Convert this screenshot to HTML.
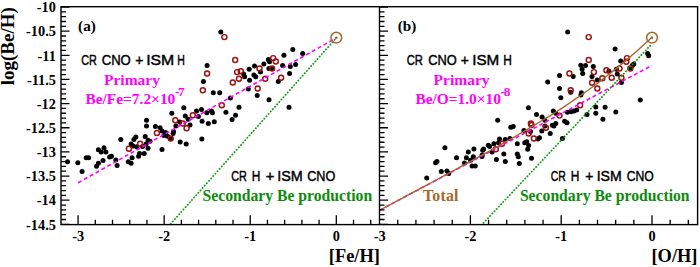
<!DOCTYPE html>
<html><head><meta charset="utf-8"><style>
html,body{margin:0;padding:0;background:#fff;}
body{width:700px;height:267px;overflow:hidden;position:relative;}
svg{position:absolute;left:0;top:0;}
.t{position:absolute;white-space:nowrap;line-height:1;}
.serif{font-family:"Liberation Serif",serif;font-weight:bold;}
.sans{font-family:"Liberation Sans",sans-serif;}
</style></head><body>
<svg width="700" height="267" viewBox="0 0 700 267">
<defs><clipPath id="cl"><rect x="61" y="7" width="318.5" height="217.4"/></clipPath><clipPath id="cr"><rect x="379.5" y="7" width="318" height="217.4"/></clipPath></defs>
<g fill="#000">
<circle cx="67.5" cy="161.8" r="2.5"/>
<circle cx="77.8" cy="162.8" r="2.5"/>
<circle cx="82.1" cy="171.4" r="2.5"/>
<circle cx="86.2" cy="157.7" r="2.5"/>
<circle cx="88.6" cy="157.7" r="2.5"/>
<circle cx="96.5" cy="166.3" r="2.5"/>
<circle cx="98.4" cy="163.3" r="2.5"/>
<circle cx="98.4" cy="149.7" r="2.5"/>
<circle cx="101.2" cy="152.1" r="2.5"/>
<circle cx="104.0" cy="147.8" r="2.5"/>
<circle cx="105.9" cy="152.1" r="2.5"/>
<circle cx="103.0" cy="160.5" r="2.5"/>
<circle cx="109.6" cy="157.1" r="2.5"/>
<circle cx="111.5" cy="156.2" r="2.5"/>
<circle cx="115.8" cy="160.0" r="2.5"/>
<circle cx="117.1" cy="165.4" r="2.5"/>
<circle cx="120.8" cy="139.4" r="2.5"/>
<circle cx="128.3" cy="161.8" r="2.5"/>
<circle cx="131.1" cy="163.3" r="2.5"/>
<circle cx="132.1" cy="157.7" r="2.5"/>
<circle cx="138.6" cy="156.2" r="2.5"/>
<circle cx="139.5" cy="153.4" r="2.5"/>
<circle cx="144.2" cy="153.4" r="2.5"/>
<circle cx="148.0" cy="148.2" r="2.5"/>
<circle cx="162.0" cy="149.4" r="2.5"/>
<circle cx="135.8" cy="137.1" r="2.5"/>
<circle cx="133.9" cy="139.4" r="2.5"/>
<circle cx="131.1" cy="144.0" r="2.5"/>
<circle cx="133.0" cy="145.9" r="2.5"/>
<circle cx="136.7" cy="146.8" r="2.5"/>
<circle cx="145.2" cy="136.6" r="2.5"/>
<circle cx="148.0" cy="140.3" r="2.5"/>
<circle cx="146.1" cy="144.0" r="2.5"/>
<circle cx="162.0" cy="131.0" r="2.5"/>
<circle cx="163.9" cy="135.6" r="2.5"/>
<circle cx="146.5" cy="120.3" r="2.5"/>
<circle cx="146.5" cy="125.9" r="2.5"/>
<circle cx="155.4" cy="126.4" r="2.5"/>
<circle cx="160.1" cy="127.8" r="2.5"/>
<circle cx="171.8" cy="113.2" r="2.5"/>
<circle cx="183.8" cy="107.7" r="2.5"/>
<circle cx="185.3" cy="116.0" r="2.5"/>
<circle cx="188.1" cy="119.3" r="2.5"/>
<circle cx="190.0" cy="124.9" r="2.5"/>
<circle cx="179.7" cy="122.1" r="2.5"/>
<circle cx="175.9" cy="125.9" r="2.5"/>
<circle cx="173.5" cy="131.5" r="2.5"/>
<circle cx="173.1" cy="133.4" r="2.5"/>
<circle cx="165.6" cy="132.4" r="2.5"/>
<circle cx="167.5" cy="136.2" r="2.5"/>
<circle cx="180.2" cy="142.0" r="2.5"/>
<circle cx="186.2" cy="144.0" r="2.5"/>
<circle cx="196.5" cy="110.9" r="2.5"/>
<circle cx="201.5" cy="109.6" r="2.5"/>
<circle cx="198.4" cy="116.5" r="2.5"/>
<circle cx="202.1" cy="121.2" r="2.5"/>
<circle cx="206.8" cy="112.8" r="2.5"/>
<circle cx="211.5" cy="110.9" r="2.5"/>
<circle cx="212.4" cy="112.8" r="2.5"/>
<circle cx="208.3" cy="123.4" r="2.5"/>
<circle cx="214.3" cy="121.8" r="2.5"/>
<circle cx="201.8" cy="139.0" r="2.5"/>
<circle cx="230.4" cy="97.9" r="2.5"/>
<circle cx="225.9" cy="112.2" r="2.5"/>
<circle cx="239.0" cy="107.2" r="2.5"/>
<circle cx="235.5" cy="115.2" r="2.5"/>
<circle cx="232.1" cy="119.4" r="2.5"/>
<circle cx="257.2" cy="95.6" r="2.5"/>
<circle cx="207.1" cy="65.6" r="2.5"/>
<circle cx="203.4" cy="81.5" r="2.5"/>
<circle cx="213.3" cy="92.7" r="2.5"/>
<circle cx="219.7" cy="92.7" r="2.5"/>
<circle cx="243.6" cy="74.0" r="2.5"/>
<circle cx="244.6" cy="76.8" r="2.5"/>
<circle cx="249.2" cy="69.3" r="2.5"/>
<circle cx="249.6" cy="80.2" r="2.5"/>
<circle cx="254.5" cy="66.0" r="2.5"/>
<circle cx="253.9" cy="75.0" r="2.5"/>
<circle cx="255.8" cy="76.8" r="2.5"/>
<circle cx="260.5" cy="72.1" r="2.5"/>
<circle cx="263.8" cy="64.1" r="2.5"/>
<circle cx="269.5" cy="61.8" r="2.5"/>
<circle cx="268.9" cy="68.4" r="2.5"/>
<circle cx="271.7" cy="68.4" r="2.5"/>
<circle cx="278.3" cy="81.5" r="2.5"/>
<circle cx="283.9" cy="55.3" r="2.5"/>
<circle cx="282.6" cy="65.6" r="2.5"/>
<circle cx="248.3" cy="89.0" r="2.5"/>
<circle cx="220.8" cy="32.1" r="2.5"/>
<circle cx="292.8" cy="49.6" r="2.5"/>
<circle cx="302.7" cy="53.4" r="2.5"/>
<circle cx="290.3" cy="66.5" r="2.5"/>
<circle cx="295.6" cy="64.6" r="2.5"/>
<circle cx="289.6" cy="73.4" r="2.5"/>
<circle cx="269.0" cy="99.8" r="2.5"/>
<circle cx="289.0" cy="107.2" r="2.5"/>
<circle cx="268.4" cy="59.6" r="2.5"/>
<circle cx="150.0" cy="141.2" r="2.5"/>
<circle cx="142.6" cy="146.6" r="2.5"/>
<circle cx="170.7" cy="138.4" r="2.5"/>
<circle cx="444.9" cy="147.8" r="2.5"/>
<circle cx="456.5" cy="157.7" r="2.5"/>
<circle cx="468.3" cy="152.1" r="2.5"/>
<circle cx="473.9" cy="148.9" r="2.5"/>
<circle cx="466.4" cy="157.7" r="2.5"/>
<circle cx="473.3" cy="156.8" r="2.5"/>
<circle cx="483.6" cy="148.9" r="2.5"/>
<circle cx="482.7" cy="150.2" r="2.5"/>
<circle cx="488.3" cy="145.2" r="2.5"/>
<circle cx="489.6" cy="146.5" r="2.5"/>
<circle cx="493.9" cy="143.7" r="2.5"/>
<circle cx="492.1" cy="152.1" r="2.5"/>
<circle cx="499.5" cy="139.0" r="2.5"/>
<circle cx="498.6" cy="142.8" r="2.5"/>
<circle cx="505.2" cy="139.6" r="2.5"/>
<circle cx="503.8" cy="154.0" r="2.5"/>
<circle cx="497.7" cy="120.3" r="2.5"/>
<circle cx="510.8" cy="127.2" r="2.5"/>
<circle cx="513.2" cy="126.5" r="2.5"/>
<circle cx="517.3" cy="143.7" r="2.5"/>
<circle cx="517.3" cy="154.0" r="2.5"/>
<circle cx="518.3" cy="156.8" r="2.5"/>
<circle cx="523.9" cy="130.6" r="2.5"/>
<circle cx="524.8" cy="142.8" r="2.5"/>
<circle cx="496.4" cy="159.6" r="2.5"/>
<circle cx="426.7" cy="178.1" r="2.5"/>
<circle cx="435.6" cy="162.7" r="2.5"/>
<circle cx="437.0" cy="161.6" r="2.5"/>
<circle cx="441.3" cy="171.5" r="2.5"/>
<circle cx="446.9" cy="171.0" r="2.5"/>
<circle cx="448.7" cy="173.4" r="2.5"/>
<circle cx="464.5" cy="163.1" r="2.5"/>
<circle cx="470.6" cy="160.3" r="2.5"/>
<circle cx="472.1" cy="165.9" r="2.5"/>
<circle cx="475.3" cy="165.9" r="2.5"/>
<circle cx="481.9" cy="156.6" r="2.5"/>
<circle cx="547.7" cy="81.9" r="2.5"/>
<circle cx="559.5" cy="88.4" r="2.5"/>
<circle cx="560.8" cy="97.8" r="2.5"/>
<circle cx="570.7" cy="92.2" r="2.5"/>
<circle cx="581.4" cy="92.7" r="2.5"/>
<circle cx="580.9" cy="95.0" r="2.5"/>
<circle cx="528.4" cy="107.7" r="2.5"/>
<circle cx="536.5" cy="114.6" r="2.5"/>
<circle cx="542.1" cy="117.1" r="2.5"/>
<circle cx="544.9" cy="120.2" r="2.5"/>
<circle cx="553.3" cy="110.9" r="2.5"/>
<circle cx="555.8" cy="113.3" r="2.5"/>
<circle cx="567.4" cy="112.2" r="2.5"/>
<circle cx="571.1" cy="111.8" r="2.5"/>
<circle cx="573.9" cy="110.9" r="2.5"/>
<circle cx="576.7" cy="110.0" r="2.5"/>
<circle cx="564.6" cy="121.2" r="2.5"/>
<circle cx="567.0" cy="122.7" r="2.5"/>
<circle cx="555.8" cy="123.4" r="2.5"/>
<circle cx="552.4" cy="125.3" r="2.5"/>
<circle cx="544.9" cy="125.9" r="2.5"/>
<circle cx="587.0" cy="114.6" r="2.5"/>
<circle cx="595.8" cy="107.1" r="2.5"/>
<circle cx="595.8" cy="113.3" r="2.5"/>
<circle cx="602.9" cy="119.3" r="2.5"/>
<circle cx="597.3" cy="80.0" r="2.5"/>
<circle cx="615.1" cy="49.1" r="2.5"/>
<circle cx="647.6" cy="53.4" r="2.5"/>
<circle cx="648.7" cy="55.8" r="2.5"/>
<circle cx="620.7" cy="60.9" r="2.5"/>
<circle cx="633.8" cy="64.1" r="2.5"/>
<circle cx="632.3" cy="65.6" r="2.5"/>
<circle cx="630.0" cy="68.4" r="2.5"/>
<circle cx="617.3" cy="74.0" r="2.5"/>
<circle cx="580.8" cy="65.2" r="2.5"/>
<circle cx="585.5" cy="65.6" r="2.5"/>
<circle cx="593.3" cy="66.5" r="2.5"/>
<circle cx="582.1" cy="69.3" r="2.5"/>
<circle cx="582.7" cy="73.4" r="2.5"/>
<circle cx="592.0" cy="76.4" r="2.5"/>
<circle cx="608.9" cy="71.2" r="2.5"/>
<circle cx="616.4" cy="69.3" r="2.5"/>
<circle cx="621.4" cy="82.5" r="2.5"/>
<circle cx="640.3" cy="99.9" r="2.5"/>
<circle cx="605.1" cy="107.2" r="2.5"/>
<circle cx="615.8" cy="112.1" r="2.5"/>
<circle cx="482.2" cy="155.0" r="2.5"/>
<circle cx="509.9" cy="138.5" r="2.5"/>
<circle cx="505.3" cy="161.5" r="2.5"/>
<circle cx="519.3" cy="163.4" r="2.5"/>
<circle cx="526.8" cy="141.8" r="2.5"/>
<circle cx="528.7" cy="145.6" r="2.5"/>
<circle cx="527.7" cy="149.3" r="2.5"/>
<circle cx="531.5" cy="158.3" r="2.5"/>
<circle cx="538.0" cy="139.0" r="2.5"/>
<circle cx="539.5" cy="137.7" r="2.5"/>
<circle cx="530.5" cy="131.6" r="2.5"/>
<circle cx="541.8" cy="131.0" r="2.5"/>
<circle cx="550.2" cy="133.4" r="2.5"/>
<circle cx="553.9" cy="125.9" r="2.5"/>
<circle cx="562.4" cy="138.5" r="2.5"/>
<circle cx="567.7" cy="32.1" r="2.5"/>
<circle cx="559.5" cy="75.4" r="2.5"/>
<circle cx="573.2" cy="76.6" r="2.5"/>
</g>
<g>
<circle cx="128.9" cy="148.7" r="2.5" fill="none" stroke="#9b1010" stroke-width="1.45"/>
<circle cx="140.1" cy="143.7" r="2.5" fill="none" stroke="#9b1010" stroke-width="1.45"/>
<circle cx="156.9" cy="133.0" r="2.5" fill="none" stroke="#9b1010" stroke-width="1.45"/>
<circle cx="175.3" cy="120.3" r="2.5" fill="none" stroke="#9b1010" stroke-width="1.45"/>
<circle cx="182.8" cy="123.4" r="2.5" fill="none" stroke="#9b1010" stroke-width="1.45"/>
<circle cx="186.6" cy="128.3" r="2.5" fill="none" stroke="#9b1010" stroke-width="1.45"/>
<circle cx="192.8" cy="115.2" r="2.5" fill="none" stroke="#9b1010" stroke-width="1.45"/>
<circle cx="221.8" cy="105.3" r="2.5" fill="none" stroke="#9b1010" stroke-width="1.45"/>
<circle cx="170.7" cy="138.4" r="2.5" fill="none" stroke="#9b1010" stroke-width="1.45"/>
<circle cx="202.8" cy="90.3" r="2.5" fill="none" stroke="#9b1010" stroke-width="1.45"/>
<circle cx="207.1" cy="73.4" r="2.5" fill="none" stroke="#9b1010" stroke-width="1.45"/>
<circle cx="235.2" cy="60.0" r="2.5" fill="none" stroke="#9b1010" stroke-width="1.45"/>
<circle cx="237.1" cy="72.1" r="2.5" fill="none" stroke="#9b1010" stroke-width="1.45"/>
<circle cx="240.8" cy="71.2" r="2.5" fill="none" stroke="#9b1010" stroke-width="1.45"/>
<circle cx="239.0" cy="78.7" r="2.5" fill="none" stroke="#9b1010" stroke-width="1.45"/>
<circle cx="232.8" cy="82.4" r="2.5" fill="none" stroke="#9b1010" stroke-width="1.45"/>
<circle cx="259.5" cy="68.4" r="2.5" fill="none" stroke="#9b1010" stroke-width="1.45"/>
<circle cx="265.2" cy="78.7" r="2.5" fill="none" stroke="#9b1010" stroke-width="1.45"/>
<circle cx="257.7" cy="88.4" r="2.5" fill="none" stroke="#9b1010" stroke-width="1.45"/>
<circle cx="273.2" cy="58.1" r="2.5" fill="none" stroke="#9b1010" stroke-width="1.45"/>
<circle cx="275.8" cy="61.5" r="2.5" fill="none" stroke="#9b1010" stroke-width="1.45"/>
<circle cx="272.1" cy="68.4" r="2.5" fill="none" stroke="#9b1010" stroke-width="1.45"/>
<circle cx="281.1" cy="77.8" r="2.5" fill="none" stroke="#9b1010" stroke-width="1.45"/>
<circle cx="224.4" cy="37.1" r="2.5" fill="none" stroke="#9b1010" stroke-width="1.45"/>
<circle cx="495.8" cy="149.3" r="2.5" fill="none" stroke="#9b1010" stroke-width="1.45"/>
<circle cx="502.0" cy="143.7" r="2.5" fill="none" stroke="#9b1010" stroke-width="1.45"/>
<circle cx="570.7" cy="90.3" r="2.5" fill="none" stroke="#9b1010" stroke-width="1.45"/>
<circle cx="580.1" cy="105.3" r="2.5" fill="none" stroke="#9b1010" stroke-width="1.45"/>
<circle cx="559.5" cy="115.6" r="2.5" fill="none" stroke="#9b1010" stroke-width="1.45"/>
<circle cx="530.9" cy="123.4" r="2.5" fill="none" stroke="#9b1010" stroke-width="1.45"/>
<circle cx="545.9" cy="127.7" r="2.5" fill="none" stroke="#9b1010" stroke-width="1.45"/>
<circle cx="592.1" cy="82.8" r="2.5" fill="none" stroke="#9b1010" stroke-width="1.45"/>
<circle cx="597.3" cy="88.4" r="2.5" fill="none" stroke="#9b1010" stroke-width="1.45"/>
<circle cx="588.7" cy="37.1" r="2.5" fill="none" stroke="#9b1010" stroke-width="1.45"/>
<circle cx="588.7" cy="59.9" r="2.5" fill="none" stroke="#9b1010" stroke-width="1.45"/>
<circle cx="627.0" cy="58.1" r="2.5" fill="none" stroke="#9b1010" stroke-width="1.45"/>
<circle cx="626.3" cy="61.8" r="2.5" fill="none" stroke="#9b1010" stroke-width="1.45"/>
<circle cx="630.4" cy="68.4" r="2.5" fill="none" stroke="#9b1010" stroke-width="1.45"/>
<circle cx="619.5" cy="68.4" r="2.5" fill="none" stroke="#9b1010" stroke-width="1.45"/>
<circle cx="606.4" cy="70.2" r="2.5" fill="none" stroke="#9b1010" stroke-width="1.45"/>
<circle cx="593.9" cy="72.1" r="2.5" fill="none" stroke="#9b1010" stroke-width="1.45"/>
<circle cx="621.4" cy="77.7" r="2.5" fill="none" stroke="#9b1010" stroke-width="1.45"/>
<circle cx="611.7" cy="77.7" r="2.5" fill="none" stroke="#9b1010" stroke-width="1.45"/>
<circle cx="602.3" cy="78.3" r="2.5" fill="none" stroke="#9b1010" stroke-width="1.45"/>
<circle cx="528.7" cy="133.4" r="2.5" fill="none" stroke="#9b1010" stroke-width="1.45"/>
<circle cx="533.9" cy="138.5" r="2.5" fill="none" stroke="#9b1010" stroke-width="1.45"/>
<circle cx="531.5" cy="125.0" r="2.5" fill="none" stroke="#9b1010" stroke-width="1.45"/>
<circle cx="569.4" cy="73.5" r="2.5" fill="none" stroke="#9b1010" stroke-width="1.45"/>
</g>
<g clip-path="url(#cl)">
<line x1="78.1" y1="182.8" x2="336.3" y2="37.9" stroke="#ff00ff" stroke-width="1.6" stroke-dasharray="4 2.7"/>
<line x1="168.5" y1="226.3" x2="336.3" y2="37.9" stroke="#109a10" stroke-width="1.8" stroke-linecap="round" stroke-dasharray="0.2 3.0"/>
</g>
<g clip-path="url(#cr)">
<line x1="379.6" y1="210.3" x2="652.0" y2="65.4" stroke="#ff00ff" stroke-width="1.6" stroke-dasharray="4 2.7"/>
<line x1="481.3" y1="225.3" x2="652.0" y2="43.7" stroke="#109a10" stroke-width="1.8" stroke-linecap="round" stroke-dasharray="0.2 3.0"/>
</g>
<g clip-path="url(#cr)"><polyline points="379.6,210.3 383.0,208.5 386.4,206.7 389.8,204.8 393.2,203.0 396.6,201.2 400.0,199.4 403.4,197.6 406.8,195.7 410.2,193.9 413.7,192.1 417.1,190.3 420.5,188.4 423.9,186.6 427.3,184.8 430.7,183.0 434.1,181.1 437.5,179.3 440.9,177.5 444.3,175.6 447.7,173.8 451.1,171.9 454.5,170.1 457.9,168.3 461.3,166.4 464.7,164.6 468.1,162.7 471.5,160.8 474.9,159.0 478.3,157.1 481.8,155.2 485.2,153.4 488.6,151.5 492.0,149.6 495.4,147.7 498.8,145.8 502.2,143.9 505.6,141.9 509.0,140.0 512.4,138.1 515.8,136.1 519.2,134.1 522.6,132.2 526.0,130.2 529.4,128.2 532.8,126.1 536.2,124.1 539.6,122.0 543.0,120.0 546.4,117.9 549.9,115.8 553.3,113.6 556.7,111.5 560.1,109.3 563.5,107.1 566.9,104.8 570.3,102.5 573.7,100.2 577.1,97.9 580.5,95.5 583.9,93.1 587.3,90.7 590.7,88.2 594.1,85.7 597.5,83.2 600.9,80.6 604.3,78.0 607.7,75.3 611.1,72.6 614.5,69.9 618.0,67.1 621.4,64.3 624.8,61.5 628.2,58.6 631.6,55.6 635.0,52.7 638.4,49.7 641.8,46.6 645.2,43.6 648.6,40.5 652.0,37.3" fill="none" stroke="#a8662c" stroke-width="1.4"/></g>
<circle cx="336.3" cy="37.7" r="5.4" fill="none" stroke="#a8662c" stroke-width="1.5"/>
<circle cx="336.3" cy="37.7" r="1.3" fill="#a8662c"/>
<circle cx="652.0" cy="37.7" r="5.4" fill="none" stroke="#a8662c" stroke-width="1.5"/>
<circle cx="652.0" cy="37.7" r="1.3" fill="#a8662c"/>
<g stroke="#000" fill="none" stroke-width="1.4">
<rect x="61" y="6.7" width="636.6" height="217.9"/>
<line x1="379.5" y1="6.7" x2="379.5" y2="224.6"/>
</g>
<path d="M61 7.00h8.5M379.5 7.00h8.5M61 11.83h5M379.5 11.83h5M61 16.66h5M379.5 16.66h5M61 21.49h5M379.5 21.49h5M61 26.32h5M379.5 26.32h5M61 31.15h8.5M379.5 31.15h8.5M61 35.98h5M379.5 35.98h5M61 40.81h5M379.5 40.81h5M61 45.64h5M379.5 45.64h5M61 50.47h5M379.5 50.47h5M61 55.30h8.5M379.5 55.30h8.5M61 60.13h5M379.5 60.13h5M61 64.96h5M379.5 64.96h5M61 69.79h5M379.5 69.79h5M61 74.62h5M379.5 74.62h5M61 79.45h8.5M379.5 79.45h8.5M61 84.28h5M379.5 84.28h5M61 89.11h5M379.5 89.11h5M61 93.94h5M379.5 93.94h5M61 98.77h5M379.5 98.77h5M61 103.60h8.5M379.5 103.60h8.5M61 108.43h5M379.5 108.43h5M61 113.26h5M379.5 113.26h5M61 118.09h5M379.5 118.09h5M61 122.92h5M379.5 122.92h5M61 127.75h8.5M379.5 127.75h8.5M61 132.58h5M379.5 132.58h5M61 137.41h5M379.5 137.41h5M61 142.24h5M379.5 142.24h5M61 147.07h5M379.5 147.07h5M61 151.90h8.5M379.5 151.90h8.5M61 156.73h5M379.5 156.73h5M61 161.56h5M379.5 161.56h5M61 166.39h5M379.5 166.39h5M61 171.22h5M379.5 171.22h5M61 176.05h8.5M379.5 176.05h8.5M61 180.88h5M379.5 180.88h5M61 185.71h5M379.5 185.71h5M61 190.54h5M379.5 190.54h5M61 195.37h5M379.5 195.37h5M61 200.20h8.5M379.5 200.20h8.5M61 205.03h5M379.5 205.03h5M61 209.86h5M379.5 209.86h5M61 214.69h5M379.5 214.69h5M61 219.52h5M379.5 219.52h5M61 224.35h8.5M379.5 224.35h8.5M78.09 224.6v-9.3M95.30 224.6v-4.8M112.52 224.6v-4.8M129.73 224.6v-4.8M146.95 224.6v-4.8M164.16 224.6v-9.3M181.37 224.6v-4.8M198.59 224.6v-4.8M215.80 224.6v-4.8M233.02 224.6v-4.8M250.23 224.6v-9.3M267.44 224.6v-4.8M284.66 224.6v-4.8M301.87 224.6v-4.8M319.09 224.6v-4.8M336.30 224.6v-9.3M353.51 224.6v-4.8M370.73 224.6v-4.8M397.76 224.6v-4.8M415.92 224.6v-4.8M434.08 224.6v-4.8M452.24 224.6v-4.8M470.40 224.6v-9.3M488.56 224.6v-4.8M506.72 224.6v-4.8M524.88 224.6v-4.8M543.04 224.6v-4.8M561.20 224.6v-9.3M579.36 224.6v-4.8M597.52 224.6v-4.8M615.68 224.6v-4.8M633.84 224.6v-4.8M652.00 224.6v-9.3M670.16 224.6v-4.8M688.32 224.6v-4.8" stroke="#000" stroke-width="1.3" fill="none"/>
<text x="55.9" y="12.2" font-family="Liberation Serif" font-weight="bold" font-size="14.3" text-anchor="end">-10</text>
<text x="55.9" y="36.4" font-family="Liberation Serif" font-weight="bold" font-size="14.3" text-anchor="end">-10.5</text>
<text x="55.9" y="60.5" font-family="Liberation Serif" font-weight="bold" font-size="14.3" text-anchor="end">-11</text>
<text x="55.9" y="84.6" font-family="Liberation Serif" font-weight="bold" font-size="14.3" text-anchor="end">-11.5</text>
<text x="55.9" y="108.8" font-family="Liberation Serif" font-weight="bold" font-size="14.3" text-anchor="end">-12</text>
<text x="55.9" y="132.9" font-family="Liberation Serif" font-weight="bold" font-size="14.3" text-anchor="end">-12.5</text>
<text x="55.9" y="157.1" font-family="Liberation Serif" font-weight="bold" font-size="14.3" text-anchor="end">-13</text>
<text x="55.9" y="181.2" font-family="Liberation Serif" font-weight="bold" font-size="14.3" text-anchor="end">-13.5</text>
<text x="55.9" y="205.4" font-family="Liberation Serif" font-weight="bold" font-size="14.3" text-anchor="end">-14</text>
<text x="55.9" y="229.5" font-family="Liberation Serif" font-weight="bold" font-size="14.3" text-anchor="end">-14.5</text>
<text x="78.1" y="241.2" font-family="Liberation Serif" font-weight="bold" font-size="14.3" text-anchor="middle">-3</text>
<text x="379.6" y="241.2" font-family="Liberation Serif" font-weight="bold" font-size="14.3" text-anchor="middle">-3</text>
<text x="164.2" y="241.2" font-family="Liberation Serif" font-weight="bold" font-size="14.3" text-anchor="middle">-2</text>
<text x="470.4" y="241.2" font-family="Liberation Serif" font-weight="bold" font-size="14.3" text-anchor="middle">-2</text>
<text x="250.2" y="241.2" font-family="Liberation Serif" font-weight="bold" font-size="14.3" text-anchor="middle">-1</text>
<text x="561.2" y="241.2" font-family="Liberation Serif" font-weight="bold" font-size="14.3" text-anchor="middle">-1</text>
<text x="336.3" y="241.2" font-family="Liberation Serif" font-weight="bold" font-size="14.3" text-anchor="middle">0</text>
<text x="652.0" y="241.2" font-family="Liberation Serif" font-weight="bold" font-size="14.3" text-anchor="middle">0</text>
<text x="328.8" y="262" font-family="Liberation Serif" font-weight="bold" font-size="18.4">[Fe/H]</text>
<text x="651.5" y="262" font-family="Liberation Serif" font-weight="bold" font-size="18.4">[O/H]</text>
<text transform="translate(14,85.3) rotate(-90)" font-family="Liberation Serif" font-weight="bold" font-size="19">log(Be/H)</text>
<text x="78.1" y="30.9" font-family="Liberation Serif" font-weight="bold" font-size="15.2">(a)</text>
<text x="397.7" y="31.1" font-family="Liberation Serif" font-weight="bold" font-size="15.2">(b)</text>
<text x="81.20" y="64.8" font-family="Liberation Sans" stroke="#000" stroke-width="0.45" font-size="15.2" textLength="15.60" lengthAdjust="spacingAndGlyphs">CR</text>
<text x="101.70" y="64.8" font-family="Liberation Sans" stroke="#000" stroke-width="0.45" font-size="15.2" textLength="29.10" lengthAdjust="spacingAndGlyphs">CNO</text>
<text x="135.20" y="64.8" font-family="Liberation Sans" stroke="#000" stroke-width="0.45" font-size="15.2" textLength="8.10" lengthAdjust="spacingAndGlyphs">+</text>
<text x="146.20" y="64.8" font-family="Liberation Sans" stroke="#000" stroke-width="0.45" font-size="15.2" textLength="28.10" lengthAdjust="spacingAndGlyphs">ISM</text>
<text x="177.20" y="64.8" font-family="Liberation Sans" stroke="#000" stroke-width="0.45" font-size="15.2" textLength="7.60" lengthAdjust="spacingAndGlyphs">H</text>
<text x="231.20" y="181.1" font-family="Liberation Sans" stroke="#000" stroke-width="0.45" font-size="15.2" textLength="15.60" lengthAdjust="spacingAndGlyphs">CR</text>
<text x="251.70" y="181.1" font-family="Liberation Sans" stroke="#000" stroke-width="0.45" font-size="15.2" textLength="8.60" lengthAdjust="spacingAndGlyphs">H</text>
<text x="265.70" y="181.1" font-family="Liberation Sans" stroke="#000" stroke-width="0.45" font-size="15.2" textLength="8.60" lengthAdjust="spacingAndGlyphs">+</text>
<text x="277.20" y="181.1" font-family="Liberation Sans" stroke="#000" stroke-width="0.45" font-size="15.2" textLength="25.60" lengthAdjust="spacingAndGlyphs">ISM</text>
<text x="307.20" y="181.1" font-family="Liberation Sans" stroke="#000" stroke-width="0.45" font-size="15.2" textLength="28.10" lengthAdjust="spacingAndGlyphs">CNO</text>
<text x="406.70" y="64.8" font-family="Liberation Sans" stroke="#000" stroke-width="0.45" font-size="15.2" textLength="16.10" lengthAdjust="spacingAndGlyphs">CR</text>
<text x="428.20" y="64.8" font-family="Liberation Sans" stroke="#000" stroke-width="0.45" font-size="15.2" textLength="28.60" lengthAdjust="spacingAndGlyphs">CNO</text>
<text x="460.70" y="64.8" font-family="Liberation Sans" stroke="#000" stroke-width="0.45" font-size="15.2" textLength="8.10" lengthAdjust="spacingAndGlyphs">+</text>
<text x="472.20" y="64.8" font-family="Liberation Sans" stroke="#000" stroke-width="0.45" font-size="15.2" textLength="27.10" lengthAdjust="spacingAndGlyphs">ISM</text>
<text x="503.20" y="64.8" font-family="Liberation Sans" stroke="#000" stroke-width="0.45" font-size="15.2" textLength="8.60" lengthAdjust="spacingAndGlyphs">H</text>
<text x="550.70" y="181.1" font-family="Liberation Sans" stroke="#000" stroke-width="0.45" font-size="15.2" textLength="15.10" lengthAdjust="spacingAndGlyphs">CR</text>
<text x="570.70" y="181.1" font-family="Liberation Sans" stroke="#000" stroke-width="0.45" font-size="15.2" textLength="8.60" lengthAdjust="spacingAndGlyphs">H</text>
<text x="585.20" y="181.1" font-family="Liberation Sans" stroke="#000" stroke-width="0.45" font-size="15.2" textLength="8.10" lengthAdjust="spacingAndGlyphs">+</text>
<text x="596.70" y="181.1" font-family="Liberation Sans" stroke="#000" stroke-width="0.45" font-size="15.2" textLength="25.10" lengthAdjust="spacingAndGlyphs">ISM</text>
<text x="626.70" y="181.1" font-family="Liberation Sans" stroke="#000" stroke-width="0.45" font-size="15.2" textLength="27.10" lengthAdjust="spacingAndGlyphs">CNO</text>
<text x="104.0" y="84.6" font-family="Liberation Serif" font-weight="bold" font-size="15.5" fill="#ff00ff">Primary</text>
<text x="433.6" y="84.6" font-family="Liberation Serif" font-weight="bold" font-size="15.5" fill="#ff00ff">Primary</text>
<text x="85.5" y="103.6" font-family="Liberation Serif" font-weight="bold" font-size="15.4" fill="#ff00ff">Be/Fe=7.2×10<tspan font-size="13.2" dy="-7.5" dx="-0.3">-</tspan><tspan font-size="13.2" dx="-1.3">7</tspan></text>
<text x="415.4" y="103.6" font-family="Liberation Serif" font-weight="bold" font-size="15.4" fill="#ff00ff">Be/O=1.0×10<tspan font-size="13.2" dy="-7.5" dx="-0.3">-</tspan><tspan font-size="13.2" dx="-1.3">8</tspan></text>
<text x="202.5" y="200.5" font-family="Liberation Serif" font-weight="bold" font-size="15.7" fill="#0c8c0c">Secondary Be production</text>
<text x="519.9" y="200.5" font-family="Liberation Serif" font-weight="bold" font-size="15.7" fill="#0c8c0c">Secondary Be production</text>
<text x="422.9" y="200.7" font-family="Liberation Serif" font-weight="bold" font-size="15.8" fill="#a8662c" textLength="35.6" lengthAdjust="spacing">Total</text>
</svg>

</body></html>
